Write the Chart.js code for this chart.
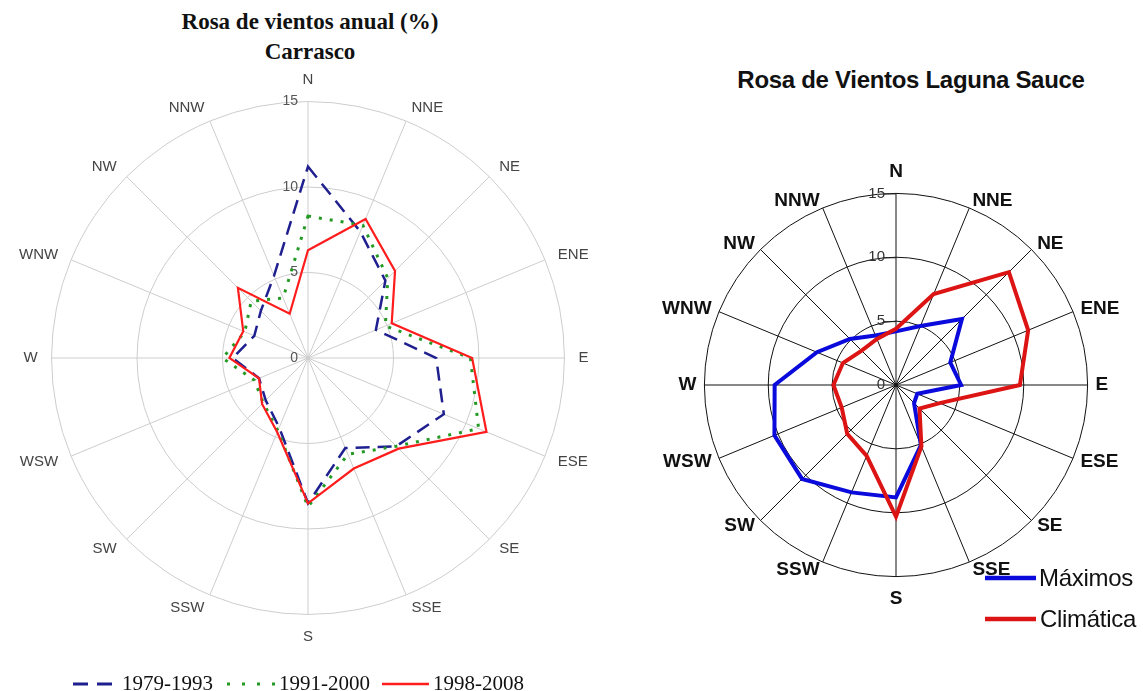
<!DOCTYPE html>
<html>
<head>
<meta charset="utf-8">
<script src="https://cdn.jsdelivr.net/npm/chart.js@4/dist/chart.umd.min.js"></script>
<style>
  html, body { margin: 0; padding: 0; background: #fff; }
  body { width: 1143px; height: 691px; overflow: hidden; position: relative; }
  .abs { position: absolute; }
  #titleLeft { left: 0; top: 7px; width: 620px; text-align: center; font: bold 23px "Liberation Serif", "Times New Roman", serif; line-height: 30px; color: #111; }
  #titleRight { left: 711px; top: 65px; width: 400px; text-align: center; font: bold 24px "Liberation Sans", Arial, sans-serif; line-height: 30px; color: #111; letter-spacing: -0.3px; }
  #chartLeft { left: 15px; top: 69px; }
  #chartRight { left: 657px; top: 151px; }
  .legL { font: 21px "Liberation Serif", "Times New Roman", serif; color: #111; line-height: 24px; top: 671px; white-space: nowrap; }
  .legR { font: 24px "Liberation Sans", Arial, sans-serif; color: #111; line-height: 28px; white-space: nowrap; letter-spacing: -0.3px; }
  svg.abs { overflow: visible; }
</style>
</head>
<body>
<div id="titleLeft" class="abs">Rosa de vientos anual (%)<br>Carrasco</div>
<div id="titleRight" class="abs">Rosa de Vientos Laguna Sauce</div>

<canvas id="chartLeft" class="abs" width="578" height="578"></canvas>
<canvas id="chartRight" class="abs" width="468" height="468"></canvas>

<!-- legend line samples -->
<svg class="abs" style="left:0;top:0" width="1" height="1">
  <line x1="73" y1="684" x2="113" y2="684" stroke="#1f1f8f" stroke-width="3" stroke-dasharray="15 9"/>
  <line x1="227" y1="684" x2="276" y2="684" stroke="#249a24" stroke-width="3" stroke-dasharray="3 12"/>
  <line x1="382" y1="684" x2="429" y2="684" stroke="#ff1c1c" stroke-width="2.5"/>
  <line x1="985" y1="578" x2="1036" y2="578" stroke="#0a0adc" stroke-width="4.5"/>
  <line x1="985" y1="619" x2="1036" y2="619" stroke="#dc1414" stroke-width="4.5"/>
</svg>
<div class="abs legL" style="left:122px">1979-1993</div>
<div class="abs legL" style="left:279px">1991-2000</div>
<div class="abs legL" style="left:433px">1998-2008</div>

<div class="abs legR" style="left:1039px;top:564px">Máximos</div>
<div class="abs legR" style="left:1040px;top:605px">Climática</div>

<script>
// Wind directions, clockwise from north
const directions = ['N', 'NNE', 'NE', 'ENE', 'E', 'ESE', 'SE', 'SSE', 'S', 'SSW', 'SW', 'WSW', 'W', 'WNW', 'NW', 'NNW'];

// Annual frequency (%) per direction, Carrasco
const carrasco1979to1993 = [11.2, 8.0, 6.4, 4.3, 7.5, 8.6, 7.3, 5.7, 8.5, 4.4, 3.5, 3.1, 4.4, 3.4, 3.9, 5.2];
const carrasco1991to2000 = [8.3, 8.4, 6.6, 4.9, 9.5, 10.8, 7.3, 6.1, 8.7, 4.6, 3.7, 3.4, 5.0, 4.0, 4.7, 3.8];
const carrasco1998to2008 = [6.3, 8.8, 7.2, 5.3, 9.6, 11.3, 7.5, 7.0, 8.5, 4.7, 3.8, 3.1, 4.6, 4.1, 5.8, 2.8];

// Frequency (%) per direction, Laguna Sauce
const sauceMaximos   = [4.2, 5.0, 7.3, 4.6, 5.1, 1.8, 2.0, 5.1, 8.8, 9.1, 10.4, 10.3, 9.5, 6.7, 5.1, 4.2];
const sauceClimatica = [4.4, 7.7, 12.5, 11.2, 9.7, 3.7, 2.6, 5.2, 10.3, 6.0, 5.4, 4.6, 4.9, 4.5, 3.8, 3.9];

// Radial axis values
const tickValues = [0, 5, 10, 15];

// Writes the radial values beside the north spoke, with optional tick marks
const axisValuesPlugin = {
  id: 'axisValues',
  beforeDatasetsDraw(chart, args, opts) {
    const r = chart.scales.r;
    const ctx = chart.ctx;
    ctx.save();
    ctx.font = opts.font;
    ctx.fillStyle = opts.color;
    ctx.strokeStyle = opts.markColor || opts.color;
    ctx.lineWidth = 1;
    ctx.textAlign = 'right';
    ctx.textBaseline = 'middle';
    tickValues.forEach(v => {
      const y = r.yCenter - r.getDistanceFromCenterForValue(v);
      ctx.fillText(String(v), r.xCenter - opts.gap, y + (opts.dy || 0));
      if (opts.markLength && v > 0) {
        ctx.beginPath();
        ctx.moveTo(r.xCenter - opts.markLength, y + 0.5);
        ctx.lineTo(r.xCenter, y + 0.5);
        ctx.stroke();
      }
    });
    ctx.restore();
  }
};

// Direction names sit centred on their anchor point; N and S a little further out
const radarOptions = (gridColor, labelFont, labelColor, padSides, padPoles) => ({
  responsive: false,
  animation: false,
  events: [],
  elements: { line: { tension: 0 }, point: { radius: 0 } },
  scales: {
    r: {
      min: 0,
      max: 15,
      ticks: { stepSize: 5, display: false },
      grid: { circular: true, color: gridColor, lineWidth: 1 },
      angleLines: { color: gridColor, lineWidth: 1 },
      pointLabels: {
        font: labelFont,
        color: labelColor,
        padding: (c) => (c.index % 8 === 0 ? padPoles : padSides)
      }
    }
  }
});

// Carrasco
const leftOptions = radarOptions('#cdcdcd',
  { family: '"Liberation Sans", Arial, sans-serif', size: 15, lineHeight: 0.01 }, '#444', 14, 22);
leftOptions.plugins = {
  legend: { display: false },
  tooltip: { enabled: false },
  axisValues: { font: '14px "Liberation Sans", Arial, sans-serif', color: '#555', gap: 10, dy: 0 }
};
new Chart(document.getElementById('chartLeft'), {
  type: 'radar',
  data: {
    labels: directions,
    datasets: [
      { label: '1979-1993', data: carrasco1979to1993, borderColor: '#1f1f8f', borderWidth: 2.5, borderDash: [14, 8], fill: false, order: 2 },
      { label: '1991-2000', data: carrasco1991to2000, borderColor: '#249a24', borderWidth: 3, borderDash: [3, 8], fill: false, order: 1 },
      { label: '1998-2008', data: carrasco1998to2008, borderColor: '#ff1c1c', borderWidth: 2.2, fill: false, order: 0 }
    ]
  },
  options: leftOptions,
  plugins: [axisValuesPlugin]
});

// Laguna Sauce
const rightOptions = radarOptions('#111',
  { family: '"Liberation Sans", Arial, sans-serif', size: 19, weight: 'bold', lineHeight: 0.01 }, '#111', 8, 22);
rightOptions.plugins = {
  legend: { display: false },
  tooltip: { enabled: false },
  axisValues: { font: '15px "Liberation Sans", Arial, sans-serif', color: '#333', markColor: '#222', gap: 11, dy: 0, markLength: 12 }
};
new Chart(document.getElementById('chartRight'), {
  type: 'radar',
  data: {
    labels: directions,
    datasets: [
      { label: 'Máximos', data: sauceMaximos, borderColor: '#0a0adc', borderWidth: 4, fill: false, order: 1 },
      { label: 'Climática', data: sauceClimatica, borderColor: '#dc1414', borderWidth: 4, fill: false, order: 0 }
    ]
  },
  options: rightOptions,
  plugins: [axisValuesPlugin]
});
</script>
</body>
</html>
